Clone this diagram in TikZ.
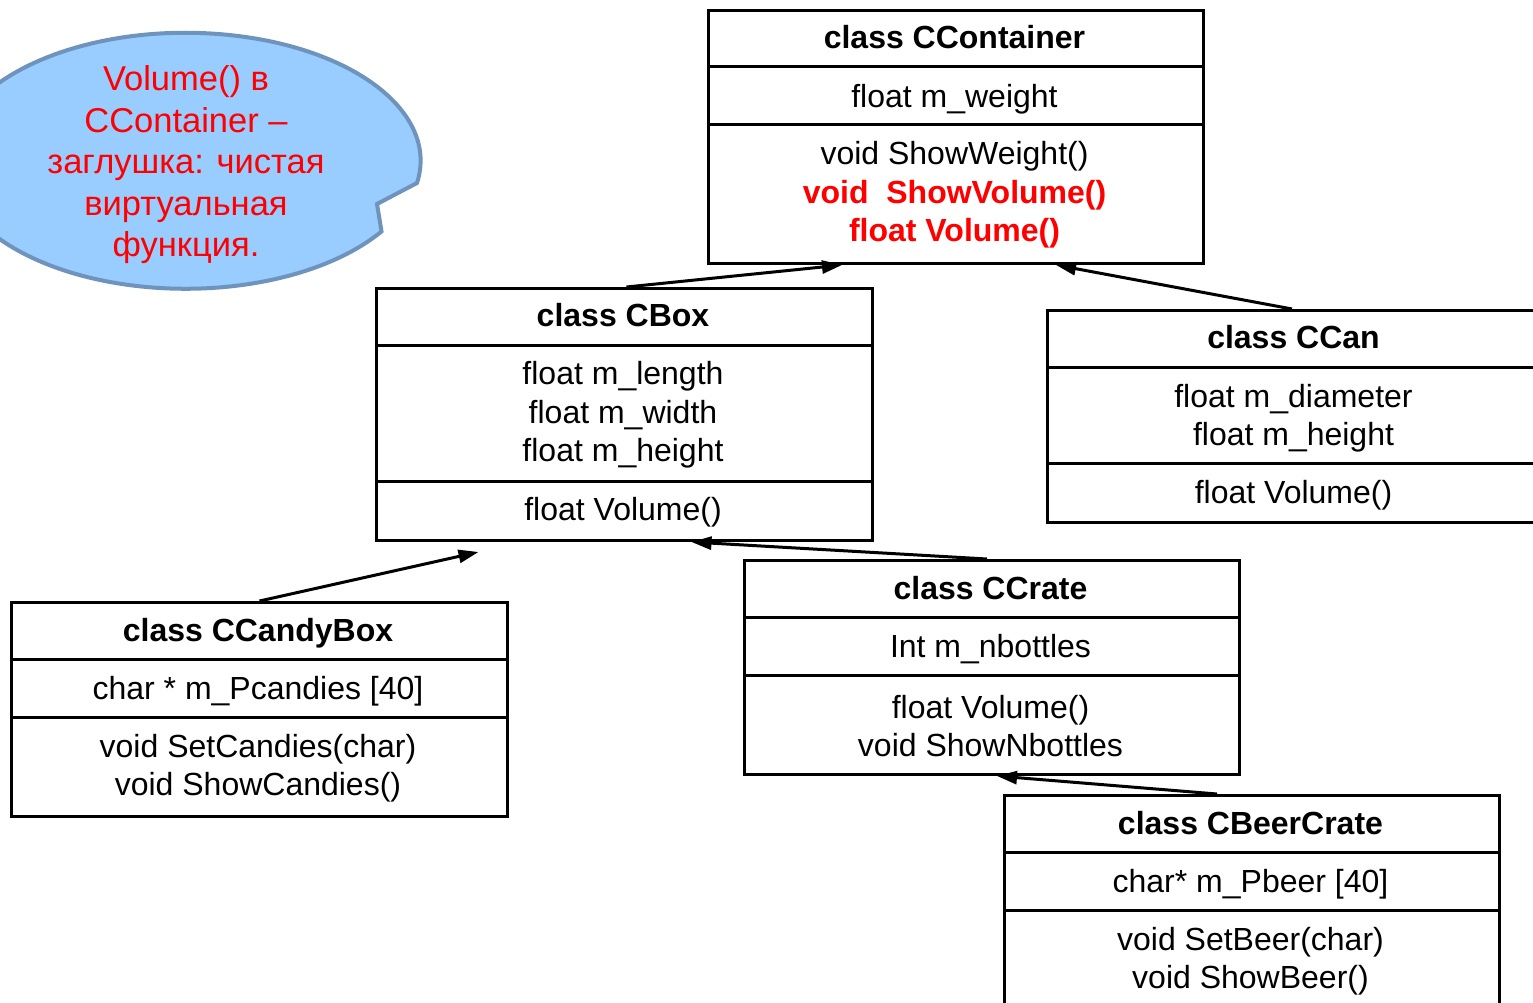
\documentclass[tikz,border=0pt]{standalone}
\usepackage{fontspec}
\setmainfont{Liberation Sans}
\usetikzlibrary{arrows.meta}
\definecolor{calloutfill}{HTML}{99CCFF}
\definecolor{calloutdraw}{HTML}{6E93BD}
\definecolor{hot}{HTML}{FF0000}
\tikzset{
  classbox/.style={draw, line width=3pt, anchor=north west, inner sep=0pt},
  sep/.style={line width=3pt},
  txt/.style={align=center, inner sep=0pt, yshift=-3pt, font=\fontsize{32}{38.5}\selectfont},
  head/.style={align=center, inner sep=0pt, font=\fontsize{32}{38.5}\selectfont\bfseries},
  inh/.style={line width=3pt, -{Triangle[length=20pt,width=13pt]}}
}
\begin{document}
\begin{tikzpicture}[x=1pt,y=-1pt]
\useasboundingbox (0,0) rectangle (1533,1003);

% note callout (y axis points down, so angles run the other way)
\draw[fill=calloutfill, draw=calloutdraw, line width=4pt]
  (417,183) arc[start angle=10, end angle=-326.5, x radius=235, y radius=128]
  -- (377,204) -- cycle;
\node[txt, text=hot, font=\fontsize{34.5}{41.5}\selectfont] (note) at (186,162)
  {Volume() в\\CContainer –\\заглушка: чистая\\виртуальная\\функция.};

% CContainer
\node[classbox, minimum width=495, minimum height=253] (ccont) at (707,9) {};
\draw[sep] (ccont.west |- 0,67) -- (ccont.east |- 0,67);
\draw[sep] (ccont.west |- 0,125) -- (ccont.east |- 0,125);
\node[head] (ccontH) at (954.5,37) {class CContainer};
\node[txt] (ccontA) at (954.5,96) {float m\_weight};
\node[txt] (ccontM) at (954.5,192) {void ShowWeight()\\
  {\bfseries\color{hot}void\ \ ShowVolume()}\\{\bfseries\color{hot}float Volume()}};

% CBox
\node[classbox, minimum width=496, minimum height=252] (cbox) at (375,287) {};
\draw[sep] (cbox.west |- 0,345) -- (cbox.east |- 0,345);
\draw[sep] (cbox.west |- 0,481) -- (cbox.east |- 0,481);
\node[head] (cboxH) at (623,315) {class CBox};
\node[txt] (cboxA) at (623,412) {float m\_length\\float m\_width\\float m\_height};
\node[txt] (cboxM) at (623,509) {float Volume()};

% CCan
\node[classbox, minimum width=495, minimum height=212] (ccan) at (1046,309) {};
\draw[sep] (ccan.west |- 0,367) -- (ccan.east |- 0,367);
\draw[sep] (ccan.west |- 0,463) -- (ccan.east |- 0,463);
\node[head] (ccanH) at (1293.5,337) {class CCan};
\node[txt] (ccanA) at (1293.5,415) {float m\_diameter\\float m\_height};
\node[txt] (ccanM) at (1293.5,492) {float Volume()};

% CCandyBox
\node[classbox, minimum width=496, minimum height=214] (ccandy) at (10,601) {};
\draw[sep] (ccandy.west |- 0,659) -- (ccandy.east |- 0,659);
\draw[sep] (ccandy.west |- 0,717) -- (ccandy.east |- 0,717);
\node[head] (ccandyH) at (258,633) {class CCandyBox};
\node[txt] (ccandyA) at (258,688) {char * m\_Pcandies [40]};
\node[txt] (ccandyM) at (258,765) {void SetCandies(char)\\void ShowCandies()};

% CCrate
\node[classbox, minimum width=495, minimum height=214] (ccrate) at (743,559) {};
\draw[sep] (ccrate.west |- 0,617) -- (ccrate.east |- 0,617);
\draw[sep] (ccrate.west |- 0,675) -- (ccrate.east |- 0,675);
\node[head] (ccrateH) at (990.5,588) {class CCrate};
\node[txt] (ccrateA) at (990.5,646) {Int m\_nbottles};
\node[txt] (ccrateM) at (990.5,723) {float Volume()\\void ShowNbottles};

% CBeerCrate
\node[classbox, minimum width=495, minimum height=230] (cbeer) at (1003,794) {};
\draw[sep] (cbeer.west |- 0,852) -- (cbeer.east |- 0,852);
\draw[sep] (cbeer.west |- 0,910) -- (cbeer.east |- 0,910);
\node[head] (cbeerH) at (1250.5,823) {class CBeerCrate};
\node[txt] (cbeerA) at (1250.5,881) {char* m\_Pbeer [40]};
\node[txt] (cbeerM) at (1250.5,958) {void SetBeer(char)\\void ShowBeer()};

% inheritance arrows
\coordinate (candyTip) at ([xshift=-146pt,yshift=-10pt]cbox.south);
\draw[inh] ([xshift=2pt]cbox.north) -- ([xshift=-114pt]ccont.south);
\draw[inh] ([xshift=-3pt]ccan.north) -- ([xshift=100pt]ccont.south);
\draw[inh] (ccandy.north) -- (candyTip);
\draw[inh] ([xshift=-5pt]ccrate.north) -- ([xshift=67pt]cbox.south);
\draw[inh] ([xshift=-35pt]cbeer.north) -- ([xshift=5pt]ccrate.south);
\end{tikzpicture}
\end{document}
